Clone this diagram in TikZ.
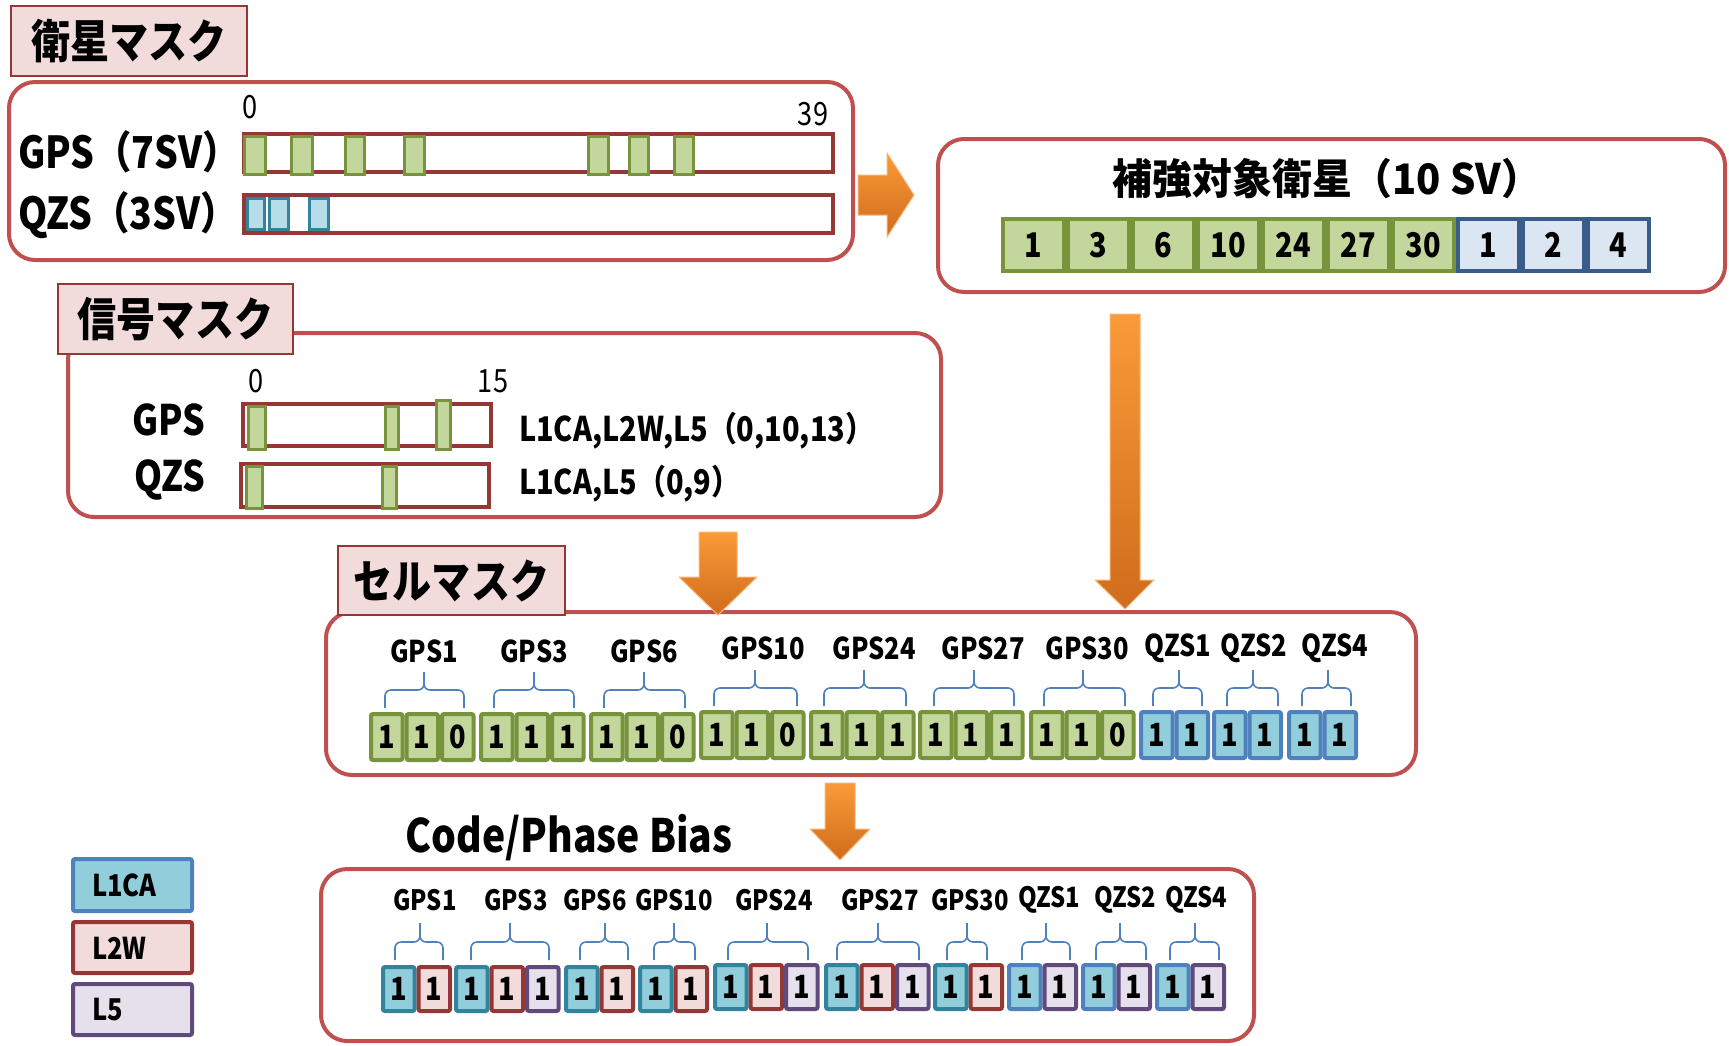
\documentclass[tikz,border=0pt]{standalone}
\usepackage{fontspec}
\setmainfont{Noto Sans CJK JP}[FakeStretch=0.85]
\newfontfamily\widefont{Noto Sans CJK JP}[FakeStretch=0.95]
\definecolor{panelred}{HTML}{C0504D}
\definecolor{darkred}{HTML}{953735}
\definecolor{pinkfill}{HTML}{F2DCDB}
\definecolor{lgreen}{HTML}{C3D69B}
\definecolor{dgreen}{HTML}{77933C}
\definecolor{lteal}{HTML}{B7DEE8}
\definecolor{dteal}{HTML}{31849B}
\definecolor{lblue}{HTML}{DCE6F2}
\definecolor{dblue}{HTML}{385D8A}
\definecolor{cyanfill}{HTML}{92CDDC}
\definecolor{mblue}{HTML}{4F81BD}
\definecolor{lpurple}{HTML}{E6E0EC}
\definecolor{dpurple}{HTML}{604A7B}
\definecolor{orangeT}{HTML}{FA9A38}
\definecolor{orangeB}{HTML}{D06C1C}
\definecolor{orangeE}{HTML}{F9B676}
\newcommand\fsz[1]{\fontsize{#1}{#1}\selectfont}
\begin{document}
\begin{tikzpicture}[x=1pt,y=-1pt,
  panel/.style={draw=panelred, line width=4pt, rounded corners=26pt, fill=white, anchor=north west, outer sep=0pt, inner sep=0pt},
  titlebox/.style={draw=darkred, line width=2pt, fill=pinkfill, anchor=north west, outer sep=0pt, inner sep=0pt, font=\fsz{46}\bfseries},
  bar/.style={draw=darkred, line width=4pt, anchor=north west, outer sep=0pt, inner sep=0pt},
  gmark/.style={draw=dgreen, fill=lgreen, line width=3pt},
  bmark/.style={draw=dteal, fill=lteal, line width=3pt},
  txt/.style={inner sep=0pt, outer sep=0pt},
  lbl/.style={txt, font=\fsz{#1}\bfseries},
  augg/.style={draw=dgreen, fill=lgreen, line width=4pt, minimum width=61pt, minimum height=52pt, inner sep=0pt, font=\fsz{34}\bfseries},
  augb/.style={augg, draw=dblue, fill=lblue},
  gcell/.style={draw=dgreen, fill=lgreen, line width=4pt, rounded corners=2pt, minimum width=31.5pt, minimum height=46pt, inner sep=0pt, font=\fsz{32}\bfseries},
  bcell/.style={gcell, draw=mblue, fill=cyanfill},
  cpA/.style={gcell, draw=dteal, fill=cyanfill, minimum height=44pt},
  cpW/.style={gcell, draw=darkred, fill=pinkfill, minimum height=44pt},
  cpF/.style={gcell, draw=dpurple, fill=lpurple, minimum height=44pt},
  cpQ/.style={gcell, draw=mblue, fill=cyanfill, minimum height=44pt},
  legbox/.style={line width=4pt, anchor=north west, outer sep=0pt, inner sep=0pt, minimum width=119pt, rounded corners=2pt},
  bracestyle/.style={draw=mblue, line width=1.6pt, rounded corners=6pt},
  blockarrow/.style={top color=orangeT, bottom color=orangeB, draw=orangeE, line width=1pt}
]
\useasboundingbox (0,0) rectangle (1729,1045);

% ---------- panels ----------
\node[panel, minimum width=844pt, minimum height=178pt] (satpanel) at (9,82) {};
\node[panel, minimum width=787pt, minimum height=153pt] (augpanel) at (938,139) {};
\node[panel, minimum width=873pt, minimum height=184pt] (sigpanel) at (68,333) {};
\node[panel, minimum width=1090pt, minimum height=163pt] (cellpanel) at (326,612) {};
\node[panel, minimum width=933pt, minimum height=172pt] (cppanel) at (321,869) {};

% ---------- title boxes ----------
\node[titlebox, minimum width=236pt, minimum height=70pt] (sattitle) at (11,6) {衛星マスク};
\node[titlebox, minimum width=235pt, minimum height=70pt] (sigtitle) at (58,284) {信号マスク};
\node[titlebox, minimum width=227pt, minimum height=69pt] (celltitle) at (338,546) {セルマスク};

% ---------- satellite mask ----------
\node[txt, font=\fsz{32}] (s0) at (250,107) {0};
\node[txt, font=\fsz{32}] (s39) at (813,114) {39};
\node[lbl=44, anchor=west] (gps7) at (18,152) {GPS（7SV）};
\node[lbl=44, anchor=west] (qzs3) at (18,215) {QZS（3SV）};
\node[bar, minimum width=589pt, minimum height=38pt] (gpsbar) at (244,134) {};
\node[bar, minimum width=589pt, minimum height=38pt] (qzsbar) at (244,195) {};
\foreach \a/\b in {243/267,290/314,344/366,403/426,587/610,628/650,673/695}
  \draw[gmark] (\a+1.5,136.5) rectangle (\b-1.5,174.5);
\foreach \a/\b in {246/266,268/290,308/330}
  \draw[bmark] (\a+1.5,198.5) rectangle (\b-1.5,229);

% arrow to augmentation
\shadedraw[blockarrow] (858,175) -- (887,175) -- (887,153) -- (914,195) -- (887,237) -- (887,215) -- (858,215) -- cycle;

% ---------- augmented satellites ----------
\node[txt, font=\widefont\fsz{42}\bfseries] (augtitle) at (1327,179) {補強対象衛星（10 SV）};
\foreach \n [count=\i] in {1,3,6,10,24,27,30}
  \node[augg] (ag\i) at ({1033.5+65*(\i-1)},245) {\n};
\foreach \n [count=\i] in {1,2,4}
  \node[augb] (ab\i) at ({1033.5+65*(\i+6)},245) {\n};

% ---------- signal mask ----------
\node[txt, font=\fsz{32}] (g0) at (256,381) {0};
\node[txt, font=\fsz{32}] (g15) at (493,381) {15};
\node[lbl=42] (sgps) at (169,420) {GPS};
\node[lbl=42] (sqzs) at (170,480) {QZS};
\node[bar, minimum width=248pt, minimum height=42pt] (sgbar) at (243,404) {};
\node[bar, minimum width=248pt, minimum height=43pt] (sqbar) at (241,464) {};
\foreach \a/\b/\t in {247/267/405,384/400/405,435/452/399}
  \draw[gmark] (\a+1.5,\t+1.5) rectangle (\b-1.5,449.5);
\foreach \a/\b in {245/264,381/398}
  \draw[gmark] (\a+1.5,466.5) rectangle (\b-1.5,508.5);
\node[lbl=34, anchor=west] (sgtext) at (519,431) {L1CA,L2W,L5（0,10,13）};
\node[lbl=34, anchor=west] (sqtext) at (519,484) {L1CA,L5（0,9）};

% arrows to cell mask
\shadedraw[blockarrow] (1110,314) -- (1140,314) -- (1140,580) -- (1154,580) -- (1125,609) -- (1095,580) -- (1110,580) -- cycle;
\shadedraw[blockarrow] (699,532) -- (737,532) -- (737,577) -- (757,577) -- (718,615) -- (679,577) -- (699,577) -- cycle;

% ---------- cell mask ----------
\foreach \t/\x/\y [count=\i] in {GPS1/424/651, GPS3/534/651, GPS6/644/651, GPS10/763/648, GPS24/874/648, GPS27/983/648, GPS30/1087/648, QZS1/1178/648, QZS2/1254/648, QZS4/1335/648}
  \node[lbl=30] (cl\i) at (\x,\y) {\t};
\foreach \a/\m/\b/\t in {385/424/464/672, 494/534/574/672, 604/644/685/672, 714/755/797/670, 824/864/906/670, 934/974/1014/670, 1044/1083/1125/670, 1153/1179/1202/670, 1227/1253/1278/670, 1302/1328/1351/670}
  \draw[bracestyle] (\a,\t+36) -- (\a,\t+18) -- (\m,\t+18) -- (\m,\t) (\b,\t+36) -- (\b,\t+18) -- (\m,\t+18) -- (\m,\t);
\foreach \gx/\gy/\bits/\ty [count=\g] in {369/737/{1,1,0}/gcell, 479/737/{1,1,1}/gcell, 589/737/{1,1,0}/gcell, 699/735/{1,1,0}/gcell, 809/735/{1,1,1}/gcell, 918/735/{1,1,1}/gcell, 1029/735/{1,1,0}/gcell, 1139/735/{1,1}/bcell, 1212/735/{1,1}/bcell, 1287/735/{1,1}/bcell}
  \foreach \b [count=\i] in \bits
    \node[\ty] (cm\g-\i) at ({\gx+(\i-0.5)*35.5},\gy) {\b};

% arrow to code/phase bias
\shadedraw[blockarrow] (825,783) -- (855,783) -- (855,829) -- (870,829) -- (840,860) -- (810,829) -- (825,829) -- cycle;

% ---------- code / phase bias ----------
\node[lbl=46] (cptitle) at (569,838) {Code/Phase Bias};
\foreach \t/\x [count=\i] in {GPS1/425, GPS3/516, GPS6/595, GPS10/674, GPS24/774, GPS27/880, GPS30/970, QZS1/1049, QZS2/1125, QZS4/1196}
  \node[lbl=28] (cpl\i) at (\x,900) {\t};
\foreach \a/\m/\b in {395/420/443, 471/510/549, 580/605/628, 654/674/695, 728/767/808, 837/878/919, 947/967/987, 1022/1046/1070, 1096/1120/1146, 1170/1195/1219}
  \draw[bracestyle] (\a,960) -- (\a,942) -- (\m,942) -- (\m,923) (\b,960) -- (\b,942) -- (\m,942) -- (\m,923);
\foreach \gx/\gy/\sts [count=\g] in {381/989/{cpA,cpW}, 454/989/{cpA,cpW,cpF}, 564/989/{cpA,cpW}, 638/989/{cpA,cpW}, 713/987/{cpA,cpW,cpF}, 824/987/{cpA,cpW,cpF}, 933/987/{cpA,cpW}, 1007/987/{cpQ,cpF}, 1081/987/{cpQ,cpF}, 1155/987/{cpQ,cpF}}
  \foreach \s [count=\i] in \sts
    \node[\s] (cp\g-\i) at ({\gx+(\i-0.5)*35.5},\gy) {1};

% ---------- legend ----------
\node[legbox, draw=mblue, fill=cyanfill, minimum height=52pt] (legA) at (73,859) {};
\node[legbox, draw=darkred, fill=pinkfill, minimum height=51pt] (legW) at (73,922) {};
\node[legbox, draw=dpurple, fill=lpurple, minimum height=51pt] (legF) at (73,984) {};
\node[lbl=30, anchor=west] (legAt) at (92,885) {L1CA};
\node[lbl=30, anchor=west] (legWt) at (92,948) {L2W};
\node[lbl=30, anchor=west] (legFt) at (92,1010) {L5};
\end{tikzpicture}
\end{document}
